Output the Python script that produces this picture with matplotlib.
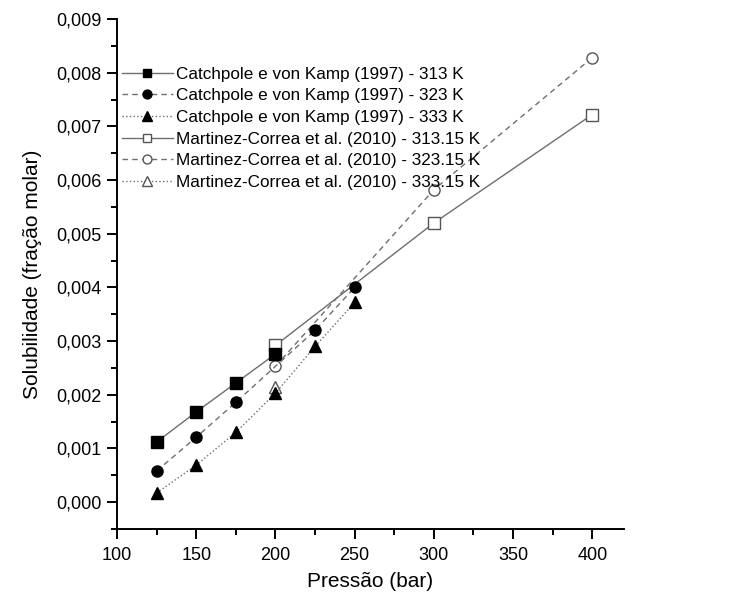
import matplotlib
matplotlib.use("Agg")
import matplotlib.pyplot as plt
from matplotlib.ticker import MultipleLocator, FuncFormatter

plt.rcParams['font.family'] = ['Liberation Sans', 'DejaVu Sans']

# Catchpole e von Kamp (1997)
ck313_p = [125, 150, 175, 200]
ck313_y = [0.00112, 0.00168, 0.00222, 0.00276]
ck323_p = [125, 150, 175, 225, 250]
ck323_y = [0.00058, 0.00121, 0.00186, 0.00320, 0.00400]
ck333_p = [125, 150, 175, 200, 225, 250]
ck333_y = [0.00017, 0.00069, 0.00130, 0.00203, 0.00290, 0.00372]
# Martinez-Correa et al. (2010)
mc313_p = [200, 300, 400]
mc313_y = [0.00292, 0.00520, 0.00722]
mc323_p = [200, 300, 400]
mc323_y = [0.00253, 0.00582, 0.00828]
mc333_p = [200]
mc333_y = [0.00215]

labels = [
    "Catchpole e von Kamp (1997) - 313 K",
    "Catchpole e von Kamp (1997) - 323 K",
    "Catchpole e von Kamp (1997) - 333 K",
    "Martinez-Correa et al. (2010) - 313.15 K",
    "Martinez-Correa et al. (2010) - 323.15 K",
    "Martinez-Correa et al. (2010) - 333.15 K",
]

fig = plt.figure(figsize=(7.39, 6.04), dpi=100)
ax = fig.add_axes([117/739, 75/604, 507/739, 510/604])

lc = '#6e6e6e'
oc = '#555555'
ms = 8
# open (Martinez) series first so the filled Catchpole markers sit on top
h4, = ax.plot(mc313_p, mc313_y, '-', color=lc, lw=1, marker='s', ms=ms, mfc='white', mec=oc, label=labels[3], zorder=2)
h5, = ax.plot(mc323_p, mc323_y, '--', color=lc, lw=1, marker='o', ms=ms, mfc='white', mec=oc, label=labels[4], dashes=(4, 3), zorder=2)
h6, = ax.plot(mc333_p, mc333_y, ':', color=lc, lw=1, marker='^', ms=ms+1, mfc='white', mec=oc, label=labels[5], zorder=2)
h1, = ax.plot(ck313_p, ck313_y, '-', color=lc, lw=1, marker='s', ms=ms, mfc='black', mec='black', label=labels[0], zorder=3)
h2, = ax.plot(ck323_p, ck323_y, '--', color=lc, lw=1, marker='o', ms=ms, mfc='black', mec='black', label=labels[1], dashes=(4, 3), zorder=3)
h3, = ax.plot(ck333_p, ck333_y, ':', color=lc, lw=1, marker='^', ms=ms+1, mfc='black', mec='black', label=labels[2], zorder=3)

ax.set_xlim(100, 420)
ax.set_ylim(-0.0005, 0.009)
ax.xaxis.set_major_locator(MultipleLocator(50))
ax.xaxis.set_minor_locator(MultipleLocator(25))
ax.yaxis.set_major_locator(MultipleLocator(0.001))
ax.yaxis.set_minor_locator(MultipleLocator(0.0005))
ax.yaxis.set_major_formatter(FuncFormatter(lambda v, p: f"{v:.3f}".replace('.', ',').replace('-0,000', '0,000')))

for s in ['top', 'right']:
    ax.spines[s].set_visible(False)
for s in ['left', 'bottom']:
    ax.spines[s].set_linewidth(1.4)
ax.tick_params(which='major', direction='out', length=7, width=1.4, labelsize=13, pad=4)
ax.tick_params(axis='x', which='major', pad=6)
ax.tick_params(which='minor', direction='out', length=4, width=1.4)

ax.set_xlabel("Pressão (bar)", fontsize=15, labelpad=6)
ax.set_ylabel("Solubilidade (fração molar)", fontsize=15, labelpad=10)

ax.legend([h1, h2, h3, h4, h5, h6], labels, loc='upper left', bbox_to_anchor=(-0.004, 0.92),
          frameon=False, fontsize=12.3, markerscale=0.8,
          handlelength=3.0, handletextpad=0.15, labelspacing=0.39, borderaxespad=0.0)

fig.savefig("out.png", dpi=100)
